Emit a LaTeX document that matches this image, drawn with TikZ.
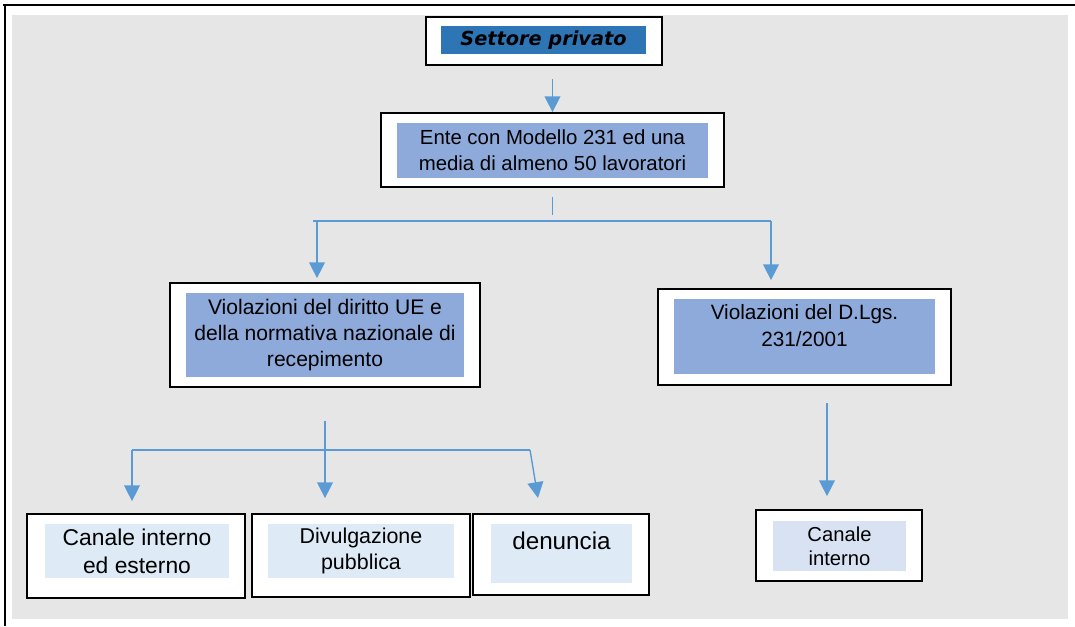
\documentclass[tikz,border=0pt]{standalone}
\usepackage{fontspec}
\setmainfont{Liberation Sans}
\newfontfamily\titlefont[BoldItalicFont={DejaVu Sans Bold Oblique}]{DejaVu Sans}
\usetikzlibrary{arrows.meta,calc}
\definecolor{bggray}{HTML}{E6E6E6}
\definecolor{arrblue}{HTML}{5B9BD5}
\definecolor{titleblue}{HTML}{2E75B6}
\definecolor{midblue}{HTML}{8EAADB}
\definecolor{paleblue}{HTML}{DEEBF7}
\definecolor{lilac}{HTML}{D9E2F3}
\tikzset{
  frame/.style={draw=black, line width=1pt, fill=white, inner sep=0pt},
  inbox/.style={fill=#1, inner sep=0pt, align=center},
  arr/.style={-{Triangle[width=9pt,length=9pt]}, arrblue, line width=0.8pt},
  branch/.style={arrblue, line width=0.8pt}
}
\begin{document}
\begin{tikzpicture}[x=0.02cm,y=-0.02cm]
\useasboundingbox (0,0) rectangle (1075,626);
\fill[bggray] (12,15) rectangle (1068,619);
\draw[line width=1.6pt] (3,5) -- (1075,5);
\draw[line width=1.6pt] (5,4) -- (5,626);

% top
\node[frame, minimum width=4.72cm, minimum height=0.96cm] (title) at (544,41) {};
\node[inbox=titleblue, minimum width=4.10cm, minimum height=0.56cm,
      font=\titlefont\fontsize{11}{13}\selectfont\bfseries\itshape] (title-in) at (543.5,40) {Settore privato};
\node[frame, minimum width=6.86cm, minimum height=1.48cm] (ente) at (552.5,150) {};
\node[inbox=midblue, minimum width=6.22cm, minimum height=1.10cm,
      font=\fontsize{11.6}{14.7}\selectfont] (ente-in) at (552.5,150.5) {Ente con Modello 231 ed una\\media di almeno 50 lavoratori};

% middle
\node[frame, minimum width=6.20cm, minimum height=2.08cm] (viol) at (325,335) {};
\node[inbox=midblue, minimum width=5.56cm, minimum height=1.68cm,
      font=\fontsize{12}{14.7}\selectfont] (viol-in) at (325,335) {Violazioni del diritto UE e\\della normativa nazionale di\\recepimento};
\node[frame, minimum width=5.86cm, minimum height=1.92cm] (dlgs) at (804.5,337) {};
\node[inbox=midblue, minimum width=5.22cm, minimum height=1.50cm, text depth=0.45cm,
      font=\fontsize{11.8}{15.5}\selectfont] (dlgs-in) at (804.5,336.5) {Violazioni del D.Lgs.\\231/2001};

% bottom
\node[frame, minimum width=4.36cm, minimum height=1.68cm] (can1) at (136,556) {};
\node[inbox=paleblue, minimum width=3.68cm, minimum height=1.08cm,
      font=\fontsize{13}{15.9}\selectfont] (can1-in) at (137,551) {Canale interno\\ed esterno};
\node[frame, minimum width=4.36cm, minimum height=1.66cm] (div) at (361,555.5) {};
\node[inbox=paleblue, minimum width=3.72cm, minimum height=1.08cm,
      font=\fontsize{12.2}{15.3}\selectfont] (div-in) at (361,551) {Divulgazione\\pubblica};
\node[frame, minimum width=3.52cm, minimum height=1.62cm] (den) at (561,554.5) {};
\node[inbox=paleblue, minimum width=2.82cm, minimum height=1.18cm, text depth=0.5cm,
      font=\fontsize{13.8}{16}\selectfont] (den-in) at (561.5,553.5) {denuncia};
\node[frame, minimum width=3.32cm, minimum height=1.42cm] (can2) at (839,545.5) {};
\node[inbox=lilac, minimum width=2.66cm, minimum height=1.00cm,
      font=\fontsize{11.5}{13.6}\selectfont] (can2-in) at (839.5,546) {Canale\\interno};

% connectors
\coordinate (f1l) at (313,221);
\coordinate (f1r) at (771,221);
\coordinate (a1) at (317,221);
\coordinate (f2l) at (132,450);
\coordinate (f2r) at (530,450);
\coordinate (d1) at (827,403);
\draw[arr, shorten <=0.26cm] (ente.north |- title.south) -- (ente.north);
\draw[branch, shorten <=0.18cm, shorten >=0.12cm] (ente.south) -- (ente.south |- f1l);
\draw[branch] (f1l) -- (f1r);
\draw[arr, shorten >=0.08cm] (a1) -- (a1 |- viol.north);
\draw[arr, shorten >=0.16cm] (f1r) -- (f1r |- dlgs.north);
\draw[arr, shorten <=0.66cm, shorten >=0.30cm] (viol.south) -- (viol.south |- div.north);
\draw[branch] (f2l) -- (f2r);
\draw[arr, shorten >=0.24cm] (f2l) -- (f2l |- can1.north);
\draw[arr] (f2r) -- ($(f2r)+(8,48)$);
\draw[arr, shorten >=0.26cm] (d1) -- (d1 |- can2.north);
\end{tikzpicture}
\end{document}
